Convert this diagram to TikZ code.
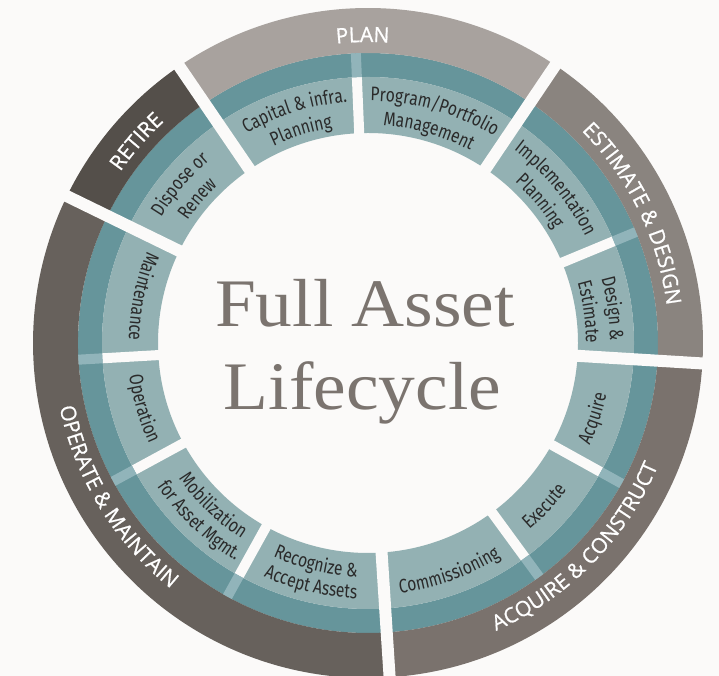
\documentclass[tikz,border=0pt]{standalone}
\usepackage{fontspec}
\setmainfont{Liberation Serif}
\newfontfamily\titlef[FakeStretch=1.08]{Liberation Serif}
\newfontfamily\segf[FakeStretch=0.8]{Fira Sans}
\newfontfamily\phf[FakeBold=0.8]{Open Sans}
\usetikzlibrary{decorations.text}
\definecolor{bgc}{HTML}{FBFAF9}
\definecolor{lightc}{HTML}{93B1B3}
\definecolor{tealc}{HTML}{66959B}
\definecolor{patchc}{HTML}{91B4BA}
\definecolor{planc}{HTML}{A8A29E}
\definecolor{estc}{HTML}{8A847F}
\definecolor{acqc}{HTML}{7A726D}
\definecolor{opc}{HTML}{67615C}
\definecolor{retc}{HTML}{544F4A}
\definecolor{segtext}{HTML}{2A2A2A}
\definecolor{titlec}{HTML}{7B746F}
\newcommand\segsty{\segf\fontsize{19.5}{22}\selectfont}
\newcommand\phsty{\phf\fontsize{21}{24}\selectfont}
% annular sector of the outer (phase) ring
\newcommand\annsec[3]{\fill[#1] (#2:290) arc[start angle=#2,end angle=#3,radius=290] -- (#3:335) arc[start angle=#3,end angle=#2,radius=335] -- cycle;}
% clockwise text (tops outward): style, colour, mid angle, radius, text
\newcommand\cwtext[5]{\path[decorate,decoration={text along path,text align=center,text color=#2,text={|#1|#5}}] ({#3+40}:#4) arc[start angle=#3+40,end angle=#3-40,radius=#4];}
% counter-clockwise text (tops inward)
\newcommand\ccwtext[5]{\path[decorate,decoration={text along path,text align=center,text color=#2,text={|#1|#5}}] ({#3-40}:#4) arc[start angle=#3-40,end angle=#3+40,radius=#4];}
\tikzset{
  phasegap/.style={line width=12, draw=bgc},
  innergap/.style={line width=10, draw=bgc},
  patchgap/.style={line width=10, draw=patchc},
  titletext/.style={anchor=base, text=titlec, font=\titlef\fontsize{68}{80}\selectfont}
}
\begin{document}
\begin{tikzpicture}[x=1pt,y=1pt]
\fill[bgc] (0,0) rectangle (719,676);
\useasboundingbox (0,0) rectangle (719,676);
\clip (0,0) rectangle (719,676);
\begin{scope}[shift={(368,333)}]
  % rings
  \fill[tealc, even odd rule] (0,0) circle (290) (0,0) circle (266);
  \fill[lightc, even odd rule] (0,0) circle (266) (0,0) circle (210);
  \annsec{planc}{56}{124.3}
  \annsec{estc}{-3.5}{56}
  \annsec{acqc}{-86.3}{-3.5}
  \annsec{opc}{154}{273.7}
  \annsec{retc}{124.3}{154}
  % inner gaps
  \foreach \a in {92.4,22.5,-29,-53.8,241,208.5,183.3}{
    \draw[innergap] (\a:195) -- (\a:266);
    \draw[patchgap] (\a:266) -- (\a:290);
  }
  % phase gaps
  \foreach \a in {124.3,56,-3.5,-86.3,154}{
    \draw[phasegap] (\a:195) -- (\a:345);
  }
  % segment labels, clockwise
  \cwtext{\segsty}{segtext}{107.5}{242}{Capital {\&} infra.}
  \cwtext{\segsty}{segtext}{107.5}{218}{Planning}
  \cwtext{\segsty}{segtext}{74}{242}{Program/Portfolio}
  \cwtext{\segsty}{segtext}{74}{218}{Management}
  \cwtext{\segsty}{segtext}{39.5}{242}{Implementation}
  \cwtext{\segsty}{segtext}{39.5}{218}{Planning}
  \cwtext{\segsty}{segtext}{8}{242}{Design {\&}}
  \cwtext{\segsty}{segtext}{8}{218}{Estimate}
  \cwtext{\segsty}{segtext}{139.8}{242}{Dispose or}
  \cwtext{\segsty}{segtext}{139.8}{218}{Renew}
  % segment labels, counter-clockwise
  \ccwtext{\segsty}{segtext}{-18.5}{244}{Acquire}
  \ccwtext{\segsty}{segtext}{-42.8}{247}{Execute}
  \ccwtext{\segsty}{segtext}{-70.5}{252}{Commissioning}
  \ccwtext{\segsty}{segtext}{256.7}{234}{Recognize {\&}}
  \ccwtext{\segsty}{segtext}{256.7}{256}{Accept Assets}
  \ccwtext{\segsty}{segtext}{226.4}{233}{Mobilization}
  \ccwtext{\segsty}{segtext}{226.4}{255}{for Asset Mgmt.}
  \ccwtext{\segsty}{segtext}{196.3}{241}{Operation}
  \ccwtext{\segsty}{segtext}{168.4}{239}{Maintenance}
  % phase labels
  \cwtext{\phsty}{white}{91}{301}{PLAN}
  \cwtext{\phsty}{white}{26}{301}{ESTIMATE {\&} DESIGN}
  \cwtext{\phsty}{white}{139}{301}{RETIRE}
  \ccwtext{\phsty}{white}{-44.5}{315}{ACQUIRE {\&} CONSTRUCT}
  \ccwtext{\phsty}{white}{211.5}{315}{OPERATE {\&} MAINTAIN}
\end{scope}
\node[titletext] (t1) at (365,349) {Full Asset};
\node[titletext] (t2) at (362.5,266) {Lifecycle};
\end{tikzpicture}
\end{document}
